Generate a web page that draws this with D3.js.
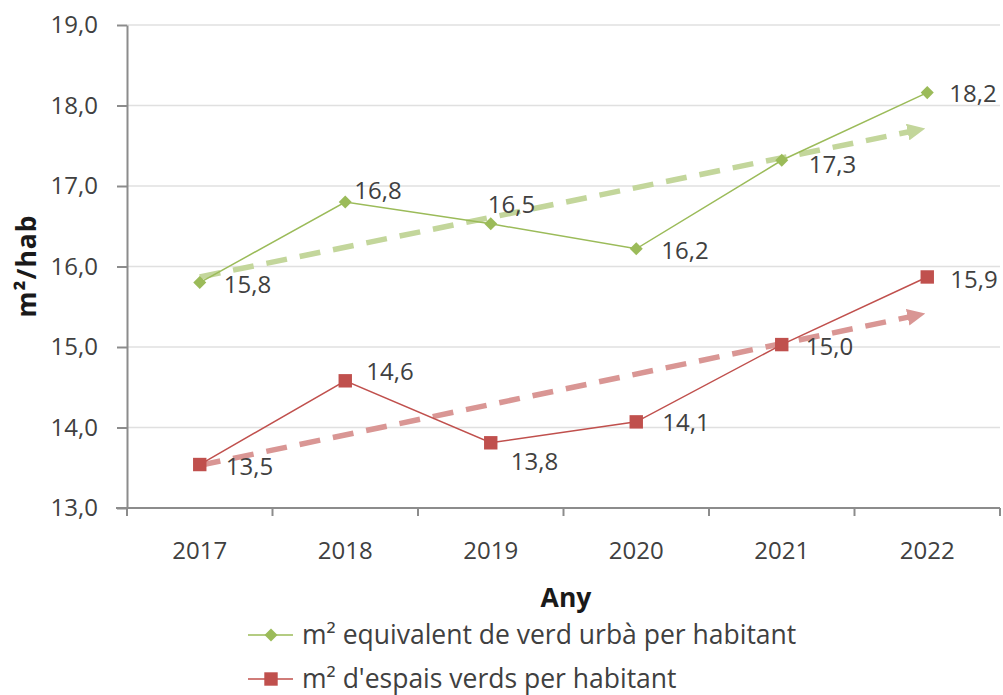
<!DOCTYPE html>
<html>
<head>
<meta charset="utf-8">
<script src="https://cdn.jsdelivr.net/npm/d3@7"></script>
<style>
  body { margin: 0; background: #fff; }
  text { font-family: "Open Sans", sans-serif; fill: #404040; }
</style>
</head>
<body>
<script>
// data
var years = ["2017", "2018", "2019", "2020", "2021", "2022"];
var verdUrba = [15.80, 16.80, 16.53, 16.22, 17.32, 18.16];
var espaisVerds = [13.54, 14.58, 13.81, 14.07, 15.03, 15.87];
var trendVerdUrba = [15.87, 17.72];   // trend arrow, first and last year
var trendEspais = [13.53, 15.42];
var yTicks = [13, 14, 15, 16, 17, 18, 19];
var seriesNames = ["m² equivalent de verd urbà per habitant", "m² d'espais verds per habitant"];

// where each data label sits relative to its point
var labelOffVerd = [[24, 2], [9, -12], [-3, -19], [25, 2], [27, 4], [22, 1]];
var labelOffEspais = [[26, 2], [21, -9], [20, 19], [26, 1], [24, 2], [23, 3]];

var width = 1003,
	height = 695,
	green = "#9bbb59",
	red = "#c0504d",
	greenTrend = "#c3d69b",
	redTrend = "#d99694",
	axisColor = "#8c8c8c";

var svg = d3.select("body").append("svg")
	.attr("width", width)
	.attr("height", height);

var x = d3.scaleBand().domain(years).range([127, 1000]);
var y = d3.scaleLinear().domain([13, 19]).range([508, 25]);

function cx(d) { return x(d) + x.bandwidth() / 2; }
function fmt(v) { return v.toFixed(1).replace(".", ","); }

// gridlines
svg.append("g")
	.selectAll("line")
	.data(yTicks.slice(1))
	.enter()
	.append("line")
	.attr("x1", 127).attr("x2", 1000)
	.attr("y1", function(d) { return y(d); })
	.attr("y2", function(d) { return y(d); })
	.style("stroke", "#e0e0e0")
	.style("stroke-width", 1.5);

// y axis
var yAxis = svg.append("g")
	.attr("transform", "translate(127,0)")
	.call(d3.axisLeft(y).tickValues(yTicks).tickSizeInner(10).tickSizeOuter(0).tickPadding(19).tickFormat(fmt));
yAxis.selectAll("path, line").style("stroke", axisColor).style("stroke-width", 2);
yAxis.selectAll("text").style("font-size", "24px").style("font-family", null).attr("fill", null);

// x axis: labels in the middle of each band, ticks on the band edges
var xAxis = svg.append("g")
	.attr("transform", "translate(0,508)")
	.call(d3.axisBottom(x).tickSize(0).tickPadding(34));
xAxis.select(".domain").remove();
xAxis.selectAll("text").style("font-size", "24px").style("font-family", null).attr("fill", null);

svg.append("line")
	.attr("x1", 116).attr("x2", 1000)
	.attr("y1", 508).attr("y2", 508)
	.style("stroke", axisColor).style("stroke-width", 2);

svg.append("g")
	.selectAll("line")
	.data(years.concat(["end"]))
	.enter()
	.append("line")
	.attr("x1", function(d, i) { return i < years.length ? x(d) : x.range()[1]; })
	.attr("x2", function(d, i) { return i < years.length ? x(d) : x.range()[1]; })
	.attr("y1", 508).attr("y2", 516)
	.style("stroke", axisColor).style("stroke-width", 2);

// axis titles
svg.append("text")
	.attr("transform", "translate(27,266) rotate(-90)")
	.attr("text-anchor", "middle")
	.attr("dy", "0.35em")
	.style("font-size", "26.5px")
	.style("font-weight", "bold")
	.style("letter-spacing", "1px")
	.style("fill", "#1a1a1a")
	.text("m²/hab");

svg.append("text")
	.attr("x", 566).attr("y", 598)
	.attr("text-anchor", "middle")
	.attr("dy", "0.35em")
	.style("font-size", "26.5px")
	.style("font-weight", "bold")
	.style("fill", "#1a1a1a")
	.text("Any");

// trend arrows
var defs = svg.append("defs");
function arrowHead(id, color) {
	defs.append("marker")
		.attr("id", id)
		.attr("viewBox", "0 0 18 17")
		.attr("markerUnits", "userSpaceOnUse")
		.attr("markerWidth", 18).attr("markerHeight", 17)
		.attr("refX", 8).attr("refY", 8.5)
		.attr("orient", "auto")
		.append("path")
		.attr("d", "M0,0 L18,8.5 L0,17 Z")
		.style("fill", color);
}
arrowHead("arrow-green", greenTrend);
arrowHead("arrow-red", redTrend);

function trend(vals, color, id) {
	var x1 = cx(years[0]), y1 = y(vals[0]),
		x2 = cx(years[years.length - 1]), y2 = y(vals[1]);
	var len = Math.sqrt((x2 - x1) * (x2 - x1) + (y2 - y1) * (y2 - y1));
	var k = (len - 12) / len;
	svg.append("line")
		.attr("x1", x1).attr("y1", y1)
		.attr("x2", x1 + (x2 - x1) * k).attr("y2", y1 + (y2 - y1) * k)
		.style("stroke", color)
		.style("stroke-width", 5.5)
		.style("stroke-dasharray", "21,13")
		.attr("marker-end", "url(#" + id + ")");
}
trend(trendVerdUrba, greenTrend, "arrow-green");
trend(trendEspais, redTrend, "arrow-red");

// series
var line = d3.line()
	.x(function(d, i) { return cx(years[i]); })
	.y(function(d) { return y(d); });

var diamond = d3.symbol().type(d3.symbolSquare).size(85);
var square = d3.symbol().type(d3.symbolSquare).size(180);

function series(vals, color, sym, rot, offs) {
	var g = svg.append("g");
	g.append("path")
		.attr("d", line(vals))
		.style("fill", "none")
		.style("stroke", color)
		.style("stroke-width", 1.5);
	g.selectAll(".pt")
		.data(vals)
		.enter()
		.append("path")
		.attr("class", "pt")
		.attr("d", sym)
		.attr("transform", function(d, i) {
			return "translate(" + cx(years[i]) + "," + y(d) + ") rotate(" + rot + ")";
		})
		.style("fill", color);
	g.selectAll(".lbl")
		.data(vals)
		.enter()
		.append("text")
		.attr("class", "lbl")
		.attr("x", function(d, i) { return cx(years[i]) + offs[i][0]; })
		.attr("y", function(d, i) { return y(d) + offs[i][1]; })
		.attr("dy", "0.35em")
		.style("font-size", "24px")
		.text(fmt);
}
series(verdUrba, green, diamond, 45, labelOffVerd);
series(espaisVerds, red, square, 0, labelOffEspais);

// legend
var legend = svg.append("g")
	.selectAll("g")
	.data(seriesNames)
	.enter()
	.append("g")
	.attr("transform", function(d, i) { return "translate(0," + (635 + i * 44) + ")"; });

legend.append("line")
	.attr("x1", 248).attr("x2", 293)
	.style("stroke", function(d, i) { return i ? red : green; })
	.style("stroke-width", 1.5);

legend.append("path")
	.attr("d", function(d, i) { return i ? square() : diamond(); })
	.attr("transform", function(d, i) { return "translate(271,0) rotate(" + (i ? 0 : 45) + ")"; })
	.style("fill", function(d, i) { return i ? red : green; });

legend.append("text")
	.attr("x", 302)
	.attr("dy", "0.35em")
	.style("font-size", "26.5px")
	.text(function(d) { return d; });
</script>
</body>
</html>
